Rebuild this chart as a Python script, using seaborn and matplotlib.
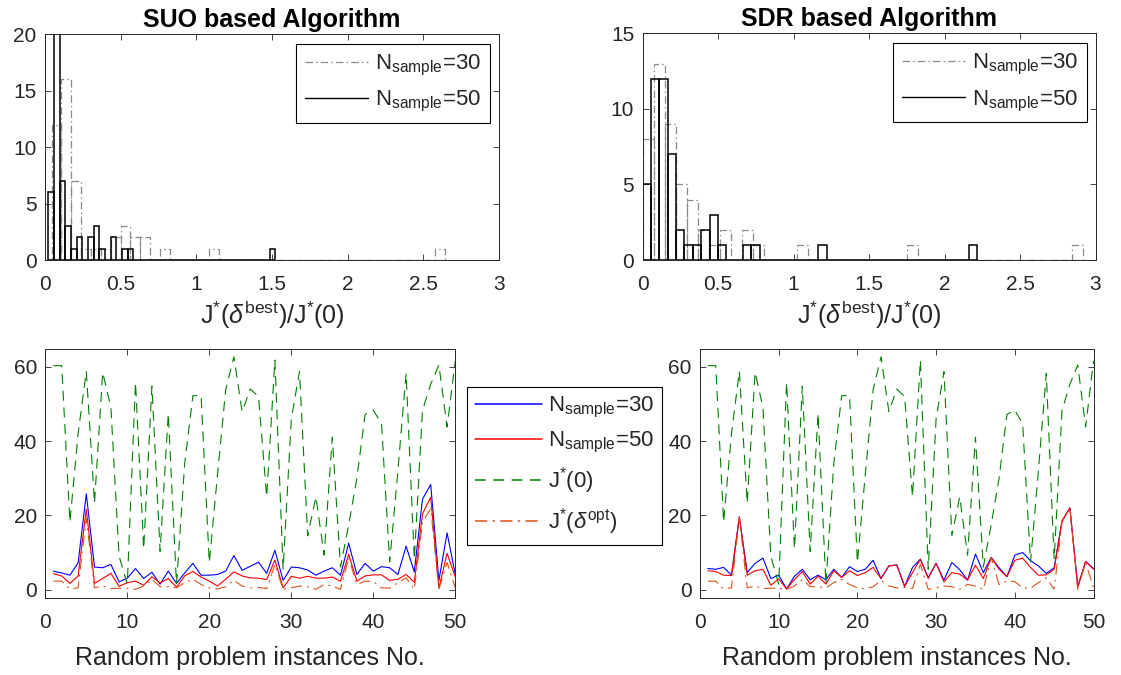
import numpy as np
import pandas as pd
import matplotlib
matplotlib.use("Agg")
import matplotlib.pyplot as plt
from matplotlib.lines import Line2D
import seaborn as sns

# ---------------- data ----------------
# Histogram counts of J*(delta_best)/J*(0) over 50 random instances (40 bins each)
suo_n30_counts = [12, 16, 7, 1, 1, 1, 2, 3, 2, 2, 0, 1, 0, 0, 0, 0, 1, 0, 0, 0,
                  0, 0, 0, 0, 0, 0, 0, 0, 0, 0, 0, 0, 0, 0, 0, 0, 0, 0, 0, 1]
suo_n30_range = (0.044, 2.644)
suo_n50_counts = [6, 20, 7, 3, 1, 2, 0, 2, 3, 1, 0, 2, 0, 1, 1, 0, 0, 0, 0, 0,
                  0, 0, 0, 0, 0, 0, 0, 0, 0, 0, 0, 0, 0, 0, 0, 0, 0, 0, 0, 1]
suo_n50_range = (0.022, 1.522)
sdr_n30_counts = [8, 13, 9, 5, 4, 2, 1, 2, 0, 2, 1, 0, 0, 0, 1, 0, 0, 0, 0, 0,
                  0, 0, 0, 0, 1, 0, 0, 0, 0, 0, 0, 0, 0, 0, 0, 0, 0, 0, 0, 1]
sdr_n30_range = (0.0, 2.916)
sdr_n50_counts = [5, 12, 12, 7, 2, 1, 1, 2, 3, 1, 0, 0, 1, 1, 0, 0, 0, 0, 0, 0,
                  0, 1, 0, 0, 0, 0, 0, 0, 0, 0, 0, 0, 0, 0, 0, 0, 0, 0, 0, 1]
sdr_n50_range = (0.001, 2.217)

# Per-instance objective values
instances = np.arange(1, 51)
j_zero = [60.3, 60.3, 18.2, 42.0, 58.8, 23.3, 58.5, 49.0, 9.0, 1.5,
          55.8, 11.0, 54.8, 10.3, 47.4, 1.5, 34.0, 52.2, 52.3, 7.3,
          31.0, 53.8, 62.7, 47.9, 54.0, 52.0, 25.0, 61.8, 5.5, 46.0,
          58.7, 14.5, 25.0, 9.3, 41.0, 6.1, 17.5, 30.0, 47.2, 48.3,
          44.7, 7.5, 32.0, 58.2, 8.2, 48.3, 55.3, 60.5, 43.8, 61.6]
j_opt = [2.3, 2.3, 0.2, 0.5, 19.3, 0.5, 1.0, 0.3, 0.4, 0.4,
         0.1, 1.0, 2.8, 0.8, 0.8, 0.5, 1.9, 2.8, 1.4, 0.5,
         0.2, 0.8, 2.5, 1.0, 0.5, 0.6, 0.3, 6.8, 0.1, 0.5,
         1.0, 0.8, 0.1, 1.4, 1.0, 0.1, 8.6, 1.4, 2.3, 2.2,
         0.5, 0.4, 1.9, 3.2, 0.1, 18.2, 21.8, 0.1, 7.3, 0.5]
suo_n30 = [5.0, 4.5, 3.9, 7.2, 25.8, 6.1, 5.9, 6.8, 2.1, 3.1,
           5.7, 3.0, 4.7, 1.5, 5.0, 1.7, 4.5, 7.1, 3.9, 3.9,
           4.1, 5.0, 9.2, 5.2, 6.3, 7.4, 4.4, 10.6, 2.5, 6.1,
           5.9, 5.3, 3.9, 5.0, 5.9, 3.9, 12.5, 4.1, 7.1, 5.0,
           6.2, 5.9, 4.1, 11.7, 4.8, 24.4, 28.3, 2.5, 15.3, 4.1]
suo_n50 = [4.3, 3.7, 1.7, 3.7, 21.7, 1.7, 3.0, 4.4, 0.9, 1.9,
           2.3, 1.2, 3.5, 1.8, 3.0, 0.7, 3.7, 4.9, 3.4, 2.3,
           1.0, 2.8, 4.8, 3.7, 3.2, 3.1, 2.7, 8.0, 0.5, 3.6,
           3.1, 3.6, 3.1, 3.1, 3.4, 2.3, 9.5, 2.3, 3.7, 4.0,
           4.0, 2.5, 2.8, 4.1, 2.0, 20.4, 24.9, 0.5, 9.8, 3.4]
sdr_n30 = [5.7, 5.5, 6.0, 3.9, 19.6, 4.6, 7.1, 8.5, 3.0, 3.9,
           0.2, 3.6, 5.5, 2.7, 3.9, 2.7, 5.5, 3.3, 6.2, 4.9,
           5.5, 7.9, 3.0, 6.4, 6.7, 0.9, 6.0, 8.2, 3.3, 7.1,
           2.6, 7.3, 5.4, 2.6, 9.6, 4.6, 8.7, 5.9, 3.5, 9.3,
           10.0, 7.8, 6.4, 4.4, 5.9, 18.5, 22.0, 0.9, 7.6, 5.7]
sdr_n50 = [5.1, 4.9, 3.9, 3.8, 19.6, 3.9, 5.1, 5.5, 1.2, 2.9,
           0.2, 2.7, 4.9, 1.5, 3.6, 1.5, 5.1, 3.3, 5.1, 3.8,
           4.6, 6.0, 3.0, 6.4, 6.6, 0.9, 4.6, 8.2, 3.0, 7.1,
           2.1, 4.6, 4.2, 2.6, 6.6, 3.0, 8.7, 5.5, 3.5, 7.9,
           8.5, 6.0, 3.9, 4.0, 5.5, 18.5, 22.0, 0.6, 7.6, 5.5]

titles = ["SUO based Algorithm", "SDR based Algorithm"]
hist_xticks = [0, 0.5, 1, 1.5, 2, 2.5, 3]
hist_xticklabels = ["0", "0.5", "1", "1.5", "2", "2.5", "3"]
lab30 = r"N$_{\mathrm{sample}}$=30"
lab50 = r"N$_{\mathrm{sample}}$=50"
lab_j0 = r"J$^{*}$(0)"
lab_jopt = r"J$^{*}$($\delta^{\mathrm{opt}}$)"
hist_xlabel = r"J$^{*}$($\delta^{\mathrm{best}}$)/J$^{*}$(0)"
line_xlabel = "Random problem instances No."

# ---------------- style ----------------
sns.set_style("ticks")
plt.rcParams["font.family"] = ["Liberation Sans", "DejaVu Sans"]
plt.rcParams["mathtext.fontset"] = "custom"
plt.rcParams["mathtext.rm"] = "Liberation Sans"
plt.rcParams["mathtext.it"] = "Liberation Sans:italic"
plt.rcParams["mathtext.bf"] = "Liberation Sans:bold"
plt.rcParams["axes.edgecolor"] = "#262626"
plt.rcParams["axes.linewidth"] = 0.7

AXC = "#262626"
GRAY = "#8a8a8a"
BLUE, RED, GREEN, ORANGE = "#0000ff", "#ff0000", "#008000", "#d95319"
LW = 0.8
LEG_LW = 1.1
DASH = (9, 6)
DASHDOT = (10, 4.5, 1.8, 4.5)

W, H = 1121, 675
fig = plt.figure(figsize=(W / 100, H / 100), dpi=100)


def px_axes(x0, y0, x1, y1):
    return fig.add_axes([x0 / W, 1 - y1 / H, (x1 - x0) / W, (y1 - y0) / H])


def style_axes(ax):
    ax.tick_params(direction="in", length=4, width=0.6, top=True, right=True,
                   labelsize=15, colors=AXC)
    ax.tick_params(axis="x", pad=11)
    ax.tick_params(axis="y", pad=6)
    for s in ax.spines.values():
        s.set_visible(True)
        s.set_color(AXC)
        s.set_linewidth(0.7)
    ax.set_ylabel("")


def place_xlabel(ax, text, y):
    ax.set_xlabel(text, fontsize=18, color=AXC)
    ax.xaxis.label.set_va("baseline")
    ax.xaxis.set_label_coords(0.5, y)


def draw_hist(ax, counts, rng, color, lw, ls):
    edges = np.linspace(rng[0], rng[1], len(counts) + 1)
    centers = 0.5 * (edges[:-1] + edges[1:])
    hdf = pd.DataFrame({"ratio": centers, "count": counts})
    sns.histplot(data=hdf, x="ratio", weights="count", bins=list(edges),
                 element="bars", fill=False, color=color, linewidth=lw,
                 linestyle=ls, ax=ax)


ax_tl = px_axes(45, 34.3, 499, 260)
ax_tr = px_axes(642.5, 33.3, 1095.5, 260)
ax_bl = px_axes(45.3, 349.3, 455.3, 597.5)
ax_br = px_axes(700, 349.3, 1093.5, 597.5)

hist_sets = [
    (ax_tl, suo_n30_counts, suo_n30_range, suo_n50_counts, suo_n50_range, 20, [0, 5, 10, 15, 20]),
    (ax_tr, sdr_n30_counts, sdr_n30_range, sdr_n50_counts, sdr_n50_range, 15, [0, 5, 10, 15]),
]
for k, (ax, c30, r30, c50, r50, ymax, yt) in enumerate(hist_sets):
    draw_hist(ax, c30, r30, GRAY, 0.9, (0, (6, 2.5, 1.2, 2.5)))
    draw_hist(ax, c50, r50, "black", 1.1, "-")
    ax.set_xlim(0, 3)
    ax.set_ylim(0, ymax)
    ax.set_xticks(hist_xticks)
    ax.set_xticklabels(hist_xticklabels)
    ax.set_yticks(yt)
    style_axes(ax)
    ax.set_title(titles[k], fontsize=18, fontweight="bold", pad=5.5, color="black")
    place_xlabel(ax, hist_xlabel, -0.282)
    handles = [Line2D([], [], color=GRAY, lw=0.9, dashes=(6, 2.5, 1.2, 2.5)),
               Line2D([], [], color="black", lw=1.0)]
    leg = ax.legend(handles, [lab30, lab50], loc="upper right",
                    bbox_to_anchor=(1 - 9 / 454, 1 - 10 / 226), borderaxespad=0,
                    fontsize=16, frameon=True, fancybox=False, framealpha=1,
                    edgecolor="black", handlelength=2.85, handletextpad=0.3,
                    borderpad=0.4, labelspacing=0.5)
    leg.get_frame().set_linewidth(0.8)

order = ["n30", "n50", "j0", "jopt"]
palette = {"n30": BLUE, "n50": RED, "j0": GREEN, "jopt": ORANGE}
dashes = {"n30": "", "n50": "", "j0": DASH, "jopt": DASHDOT}

for ax, s30, s50 in [(ax_bl, suo_n30, suo_n50), (ax_br, sdr_n30, sdr_n50)]:
    df = pd.concat([
        pd.DataFrame({"instance": instances, "value": s30, "series": "n30"}),
        pd.DataFrame({"instance": instances, "value": s50, "series": "n50"}),
        pd.DataFrame({"instance": instances, "value": j_zero, "series": "j0"}),
        pd.DataFrame({"instance": instances, "value": j_opt, "series": "jopt"}),
    ], ignore_index=True)
    sns.lineplot(data=df, x="instance", y="value", hue="series", style="series",
                 hue_order=order, style_order=order, palette=palette, dashes=dashes,
                 linewidth=LW, estimator=None, sort=False, legend=False, ax=ax)
    ax.set_xlim(0, 50)
    ax.set_ylim(-2.1, 64.7)
    ax.set_xticks([0, 10, 20, 30, 40, 50])
    ax.set_yticks([0, 20, 40, 60])
    style_axes(ax)
    place_xlabel(ax, line_xlabel, -0.272)

line_handles = [
    Line2D([], [], color=BLUE, lw=LEG_LW),
    Line2D([], [], color=RED, lw=LEG_LW),
    Line2D([], [], color=GREEN, lw=LEG_LW, dashes=(7, 5)),
    Line2D([], [], color=ORANGE, lw=LEG_LW, dashes=(8, 3.5, 1.5, 3.5)),
]
leg = fig.legend(line_handles, [lab30, lab50, lab_j0, lab_jopt], loc="upper left",
                 bbox_to_anchor=(467.3 / W, 1 - 387.3 / H), borderaxespad=0,
                 fontsize=16, frameon=True, fancybox=False, framealpha=1,
                 edgecolor="black", handlelength=3.0, handletextpad=0.3,
                 borderpad=0.35, labelspacing=0.45)
leg.get_frame().set_linewidth(0.8)

fig.savefig("out.png", dpi=100)
